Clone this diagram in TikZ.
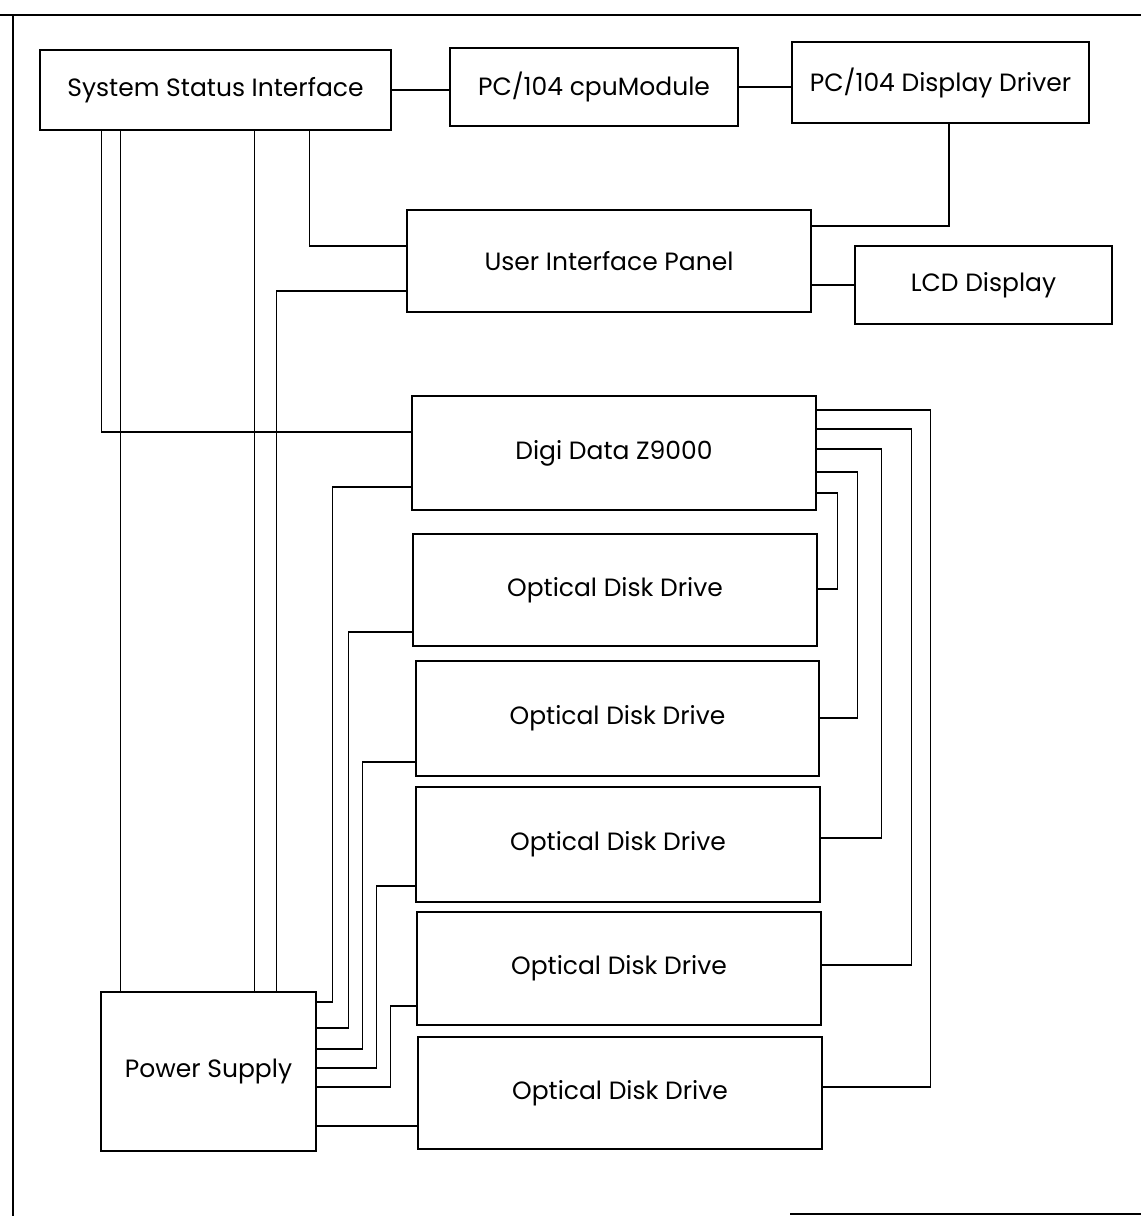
\documentclass[tikz,border=0pt]{standalone}
\usepackage{fontspec}
\setmainfont{Poppins}
\begin{document}
\begin{tikzpicture}[x=1pt,y=-1pt,
  blk/.style={draw, line width=1.3pt, rectangle, inner sep=0pt, font=\fontsize{25}{30}\selectfont},
  wire/.style={line width=1.2pt}]
\useasboundingbox (0,0) rectangle (1141,1216);
% frame
\draw[wire] (0,15) -- (1141,15);
\draw[wire] (13,15) -- (13,1216);
\draw[wire] (790,1214) -- (1141,1214);
% blocks
\node[blk, minimum width=351pt, minimum height=80pt] (ssi) at (215.5,90) {System Status Interface};
\node[blk, minimum width=288pt, minimum height=78pt] (cpu) at (594,87) {PC/104 cpuModule};
\node[blk, minimum width=297pt, minimum height=81pt] (ddrv) at (940.5,82.5) {PC/104 Display Driver};
\node[blk, minimum width=404pt, minimum height=102pt] (uip) at (609,261) {User Interface Panel};
\node[blk, minimum width=257pt, minimum height=78pt] (lcd) at (983.5,285) {LCD Display};
\node[blk, minimum width=404pt, minimum height=114pt] (digi) at (614,453) {Digi Data Z9000};
\node[blk, minimum width=404pt, minimum height=112pt] (odda) at (615,590) {Optical Disk Drive};
\node[blk, minimum width=403pt, minimum height=115pt] (oddb) at (617.5,718.5) {Optical Disk Drive};
\node[blk, minimum width=404pt, minimum height=115pt] (oddc) at (618,844.5) {Optical Disk Drive};
\node[blk, minimum width=404pt, minimum height=113pt] (oddd) at (619,968.5) {Optical Disk Drive};
\node[blk, minimum width=404pt, minimum height=112pt] (odde) at (620,1093) {Optical Disk Drive};
\node[blk, minimum width=215pt, minimum height=159pt] (ps) at (208.5,1071.5) {Power Supply};
% top chain
\draw[wire] (ssi.east) -- (ssi.east -| cpu.west);
\draw[wire] (cpu.east) -- (cpu.east -| ddrv.west);
\draw[wire] ([xshift=8.5pt]ddrv.south) |- ([yshift=35pt]uip.east);
\draw[wire] ([yshift=-24pt]uip.east) -- (lcd.west);
% SSI downward wires
\draw[wire] ([xshift=62pt]ssi.south west) |- ([yshift=21pt]digi.west);
\draw[wire] ([xshift=81pt]ssi.south west) -- ([xshift=20pt]ps.north west);
\draw[wire] ([xshift=215pt]ssi.south west) -- ([xshift=154pt]ps.north west);
\draw[wire] ([xshift=270pt]ssi.south west) |- ([yshift=15pt]uip.west);
\draw[wire] ([yshift=-30pt]uip.west) -| ([xshift=176pt]ps.north west);
% power to drives
\draw[wire] ([yshift=-34pt]digi.west) -- ++(-79,0) |- ([yshift=69.5pt]ps.east);
\draw[wire] ([yshift=-42pt]odda.west) -- ++(-64,0) |- ([yshift=43.5pt]ps.east);
\draw[wire] ([yshift=-43.5pt]oddb.west) -- ++(-53,0) |- ([yshift=22.5pt]ps.east);
\draw[wire] ([yshift=-41.5pt]oddc.west) -- ++(-39,0) |- ([yshift=3.5pt]ps.east);
\draw[wire] ([yshift=-37.5pt]oddd.west) -- ++(-26,0) |- ([yshift=-15.5pt]ps.east);
\draw[wire] ([yshift=-33pt]odde.west) -- ([yshift=-54.5pt]ps.east);
% digi data to drives
\draw[wire] ([yshift=-40pt]digi.east) -- ++(21,0) |- ([yshift=1pt]odda.east);
\draw[wire] ([yshift=-19pt]digi.east) -- ++(41,0) |- ([yshift=0.5pt]oddb.east);
\draw[wire] ([yshift=4pt]digi.east) -- ++(65,0) |- ([yshift=6.5pt]oddc.east);
\draw[wire] ([yshift=24pt]digi.east) -- ++(95,0) |- ([yshift=3.5pt]oddd.east);
\draw[wire] ([yshift=43pt]digi.east) -- ++(114,0) |- ([yshift=6pt]odde.east);
\end{tikzpicture}
\end{document}
